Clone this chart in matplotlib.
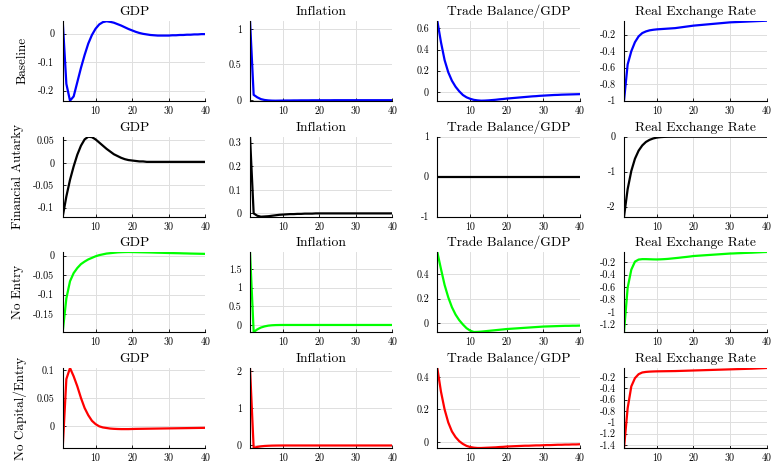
import numpy as np
import matplotlib
matplotlib.use("Agg")
import matplotlib.pyplot as plt
from matplotlib.ticker import MultipleLocator, FuncFormatter

plt.rcParams['font.family'] = ['cmr10', 'DejaVu Serif']
plt.rcParams['axes.unicode_minus'] = False

periods = np.arange(1, 41)

scenarios = ["Baseline", "Financial Autarky", "No Entry", "No Capital/Entry"]
variables = ["GDP", "Inflation", "Trade Balance/GDP", "Real Exchange Rate"]
line_colors = ["#0000ff", "#000000", "#00ff00", "#ff0000"]

# Baseline
base_gdp = [0.045, -0.176, -0.235, -0.22, -0.17, -0.12, -0.075, -0.035, -0.005, 0.017,
            0.032, 0.040, 0.043, 0.041, 0.038, 0.033, 0.028, 0.022, 0.016, 0.011,
            0.006, 0.002, -0.001, -0.003, -0.005, -0.006, -0.007, -0.007, -0.007, -0.007,
            -0.006, -0.006, -0.005, -0.005, -0.004, -0.004, -0.003, -0.003, -0.002, -0.002]
base_inf = [1.113, 0.075, 0.04, 0.015, 0.003, -0.003, -0.006, -0.007, -0.006, -0.005,
            -0.004, -0.004, -0.003, -0.003, -0.002, -0.002, -0.002, -0.001, -0.001, -0.001,
            -0.001, -0.001, -0.001, 0.0, 0.0, 0.0, 0.0, 0.0, 0.0, 0.0,
            0.0, 0.0, 0.0, 0.0, 0.0, 0.0, 0.0, 0.0, 0.0, 0.0]
base_tb = [0.673, 0.47, 0.30, 0.185, 0.105, 0.048, 0.005, -0.03, -0.052, -0.066,
           -0.076, -0.081, -0.084, -0.083, -0.081, -0.078, -0.075, -0.071, -0.068, -0.064,
           -0.061, -0.058, -0.055, -0.052, -0.049, -0.046, -0.043, -0.041, -0.038, -0.036,
           -0.034, -0.032, -0.030, -0.029, -0.027, -0.026, -0.025, -0.024, -0.023, -0.022]
base_rer = [-1.0, -0.56, -0.40, -0.29, -0.22, -0.18, -0.16, -0.147, -0.14, -0.135,
            -0.132, -0.129, -0.126, -0.123, -0.12, -0.114, -0.108, -0.102, -0.096, -0.09,
            -0.086, -0.082, -0.078, -0.074, -0.07, -0.066, -0.062, -0.058, -0.054, -0.05,
            -0.048, -0.046, -0.044, -0.042, -0.04, -0.038, -0.036, -0.034, -0.032, -0.03]

# Financial autarky
fa_gdp = [-0.12, -0.075, -0.038, -0.008, 0.018, 0.038, 0.052, 0.058, 0.057, 0.052,
          0.045, 0.038, 0.031, 0.025, 0.019, 0.015, 0.011, 0.008, 0.006, 0.005,
          0.004, 0.003, 0.003, 0.002, 0.002, 0.002, 0.002, 0.002, 0.002, 0.002,
          0.002, 0.002, 0.002, 0.002, 0.002, 0.002, 0.002, 0.002, 0.002, 0.002]
fa_inf = [0.325, 0.0, -0.01, -0.014, -0.013, -0.012, -0.010, -0.008, -0.006, -0.005,
          -0.004, -0.003, -0.003, -0.002, -0.002, -0.001, -0.001, -0.001, 0.0, 0.0,
          0.0, 0.0, 0.0, 0.0, 0.0, 0.0, 0.0, 0.0, 0.0, 0.0,
          0.0, 0.0, 0.0, 0.0, 0.0, 0.0, 0.0, 0.0, 0.0, 0.0]
fa_tb = [0.0] * 40
fa_rer = [-2.29, -1.5, -0.98, -0.63, -0.40, -0.25, -0.15, -0.09, -0.05, -0.025,
          -0.012, -0.005, -0.002, -0.001, 0.0, 0.0, 0.0, 0.0, 0.0, 0.0,
          0.0, 0.0, 0.0, 0.0, 0.0, 0.0, 0.0, 0.0, 0.0, 0.0,
          0.0, 0.0, 0.0, 0.0, 0.0, 0.0, 0.0, 0.0, 0.0, 0.0]

# No entry
ne_gdp = [-0.196, -0.11, -0.066, -0.045, -0.032, -0.022, -0.0155, -0.010, -0.006, -0.002,
          0.001, 0.003, 0.005, 0.006, 0.007, 0.008, 0.0085, 0.0088, 0.009, 0.0088,
          0.0086, 0.0084, 0.0082, 0.008, 0.0078, 0.0075, 0.0072, 0.007, 0.0067, 0.0064,
          0.0062, 0.006, 0.0058, 0.0055, 0.0053, 0.005, 0.0048, 0.0046, 0.0044, 0.0042]
ne_inf = [1.95, -0.19, -0.12, -0.07, -0.04, -0.02, -0.01, -0.005, -0.003, -0.002,
          -0.002, -0.002, -0.002, -0.002, -0.002, -0.002, -0.002, -0.002, -0.002, -0.002,
          -0.002, -0.002, -0.002, -0.002, -0.002, -0.002, -0.002, -0.002, -0.002, -0.002,
          -0.002, -0.002, -0.002, -0.002, -0.002, -0.002, -0.002, -0.002, -0.002, -0.002]
ne_tb = [0.577, 0.44, 0.31, 0.21, 0.13, 0.07, 0.025, -0.01, -0.04, -0.06,
         -0.071, -0.07, -0.068, -0.065, -0.062, -0.059, -0.056, -0.053, -0.05, -0.047,
         -0.045, -0.043, -0.041, -0.039, -0.037, -0.035, -0.033, -0.031, -0.029, -0.027,
         -0.026, -0.025, -0.024, -0.023, -0.022, -0.021, -0.021, -0.020, -0.020, -0.019]
ne_rer = [-1.324, -0.61, -0.32, -0.19, -0.157, -0.15, -0.15, -0.152, -0.154, -0.155,
          -0.153, -0.15, -0.146, -0.14, -0.134, -0.128, -0.121, -0.115, -0.108, -0.10,
          -0.096, -0.092, -0.088, -0.084, -0.08, -0.076, -0.072, -0.068, -0.064, -0.06,
          -0.058, -0.055, -0.053, -0.05, -0.048, -0.046, -0.043, -0.04, -0.037, -0.035]

# No capital / entry
nce_gdp = [-0.04, 0.084, 0.104, 0.089, 0.071, 0.05, 0.032, 0.019, 0.009, 0.003,
           -0.001, -0.003, -0.004, -0.005, -0.0055, -0.0058, -0.006, -0.006, -0.006, -0.0058,
           -0.0056, -0.0055, -0.0054, -0.0053, -0.0052, -0.0051, -0.005, -0.0049, -0.0048, -0.0047,
           -0.0046, -0.0045, -0.0044, -0.0043, -0.0042, -0.0041, -0.004, -0.0039, -0.0038, -0.0037]
nce_inf = [2.09, -0.07, -0.04, -0.025, -0.015, -0.01, -0.006, -0.004, -0.003, -0.002,
           -0.002, -0.002, -0.002, -0.002, -0.002, -0.002, -0.002, -0.002, -0.002, -0.002,
           -0.002, -0.002, -0.002, -0.002, -0.002, -0.002, -0.002, -0.002, -0.002, -0.002,
           -0.002, -0.002, -0.002, -0.002, -0.002, -0.002, -0.002, -0.002, -0.002, -0.002]
nce_tb = [0.455, 0.31, 0.20, 0.12, 0.065, 0.03, 0.005, -0.012, -0.024, -0.031,
          -0.035, -0.037, -0.037, -0.036, -0.035, -0.034, -0.033, -0.031, -0.03, -0.028,
          -0.027, -0.026, -0.025, -0.024, -0.023, -0.023, -0.022, -0.021, -0.021, -0.020,
          -0.019, -0.019, -0.018, -0.017, -0.017, -0.016, -0.016, -0.015, -0.015, -0.014]
nce_rer = [-1.453, -0.75, -0.365, -0.22, -0.15, -0.12, -0.11, -0.105, -0.102, -0.10,
           -0.099, -0.098, -0.097, -0.096, -0.095, -0.093, -0.091, -0.089, -0.087, -0.085,
           -0.083, -0.081, -0.079, -0.077, -0.075, -0.073, -0.071, -0.069, -0.067, -0.065,
           -0.063, -0.061, -0.059, -0.057, -0.055, -0.053, -0.05, -0.047, -0.044, -0.041]

series = [
    [base_gdp, base_inf, base_tb, base_rer],
    [fa_gdp, fa_inf, fa_tb, fa_rer],
    [ne_gdp, ne_inf, ne_tb, ne_rer],
    [nce_gdp, nce_inf, nce_tb, nce_rer],
]

# y tick spacing per panel
tick_steps = [
    [0.1, 0.5, 0.2, 0.2],
    [0.05, 0.1, 1.0, 1.0],
    [0.05, 0.5, 0.2, 0.2],
    [0.05, 1.0, 0.2, 0.2],
]


def fmt(v, pos):
    v = round(v, 6)
    if v == 0:
        return "0"
    return f"{v:g}"


W, H = 774, 462
col_left = [62.7, 250, 437.3, 624]
row_top = [20.7, 136.7, 252, 368]
ax_w, ax_h = 142.5, 80

fig = plt.figure(figsize=(W / 100, H / 100), dpi=100)

for i in range(4):
    for j in range(4):
        ax = fig.add_axes([col_left[j] / W, 1 - (row_top[i] + ax_h) / H, ax_w / W, ax_h / H])
        y = np.array(series[i][j])
        ax.plot(periods, y, color=line_colors[i], lw=1.6, solid_joinstyle='round')
        ax.set_xlim(1, 40)
        if np.ptp(y) == 0:
            ax.set_ylim(-1, 1)
        else:
            ax.set_ylim(y.min(), y.max())
        ax.xaxis.set_major_locator(MultipleLocator(10))
        ax.yaxis.set_major_locator(MultipleLocator(tick_steps[i][j]))
        ax.yaxis.set_major_formatter(FuncFormatter(fmt))
        ax.xaxis.set_major_formatter(FuncFormatter(fmt))
        ax.grid(True, color="#dfdfdf", lw=0.7)
        ax.set_axisbelow(True)
        for s in ["top", "right"]:
            ax.spines[s].set_visible(False)
        for s in ["left", "bottom"]:
            ax.spines[s].set_linewidth(0.8)
            ax.spines[s].set_zorder(5)
        ax.tick_params(direction="in", length=2.5, width=0.6, labelsize=7.2)
        ax.tick_params(axis="y", pad=6)
        ax.tick_params(axis="x", pad=4)
        ax.set_title(variables[j], fontsize=9.8, pad=4)
        if j == 0:
            ax.set_ylabel(scenarios[i], fontsize=9.5, labelpad=7)

fig.savefig("out.png", dpi=100)
